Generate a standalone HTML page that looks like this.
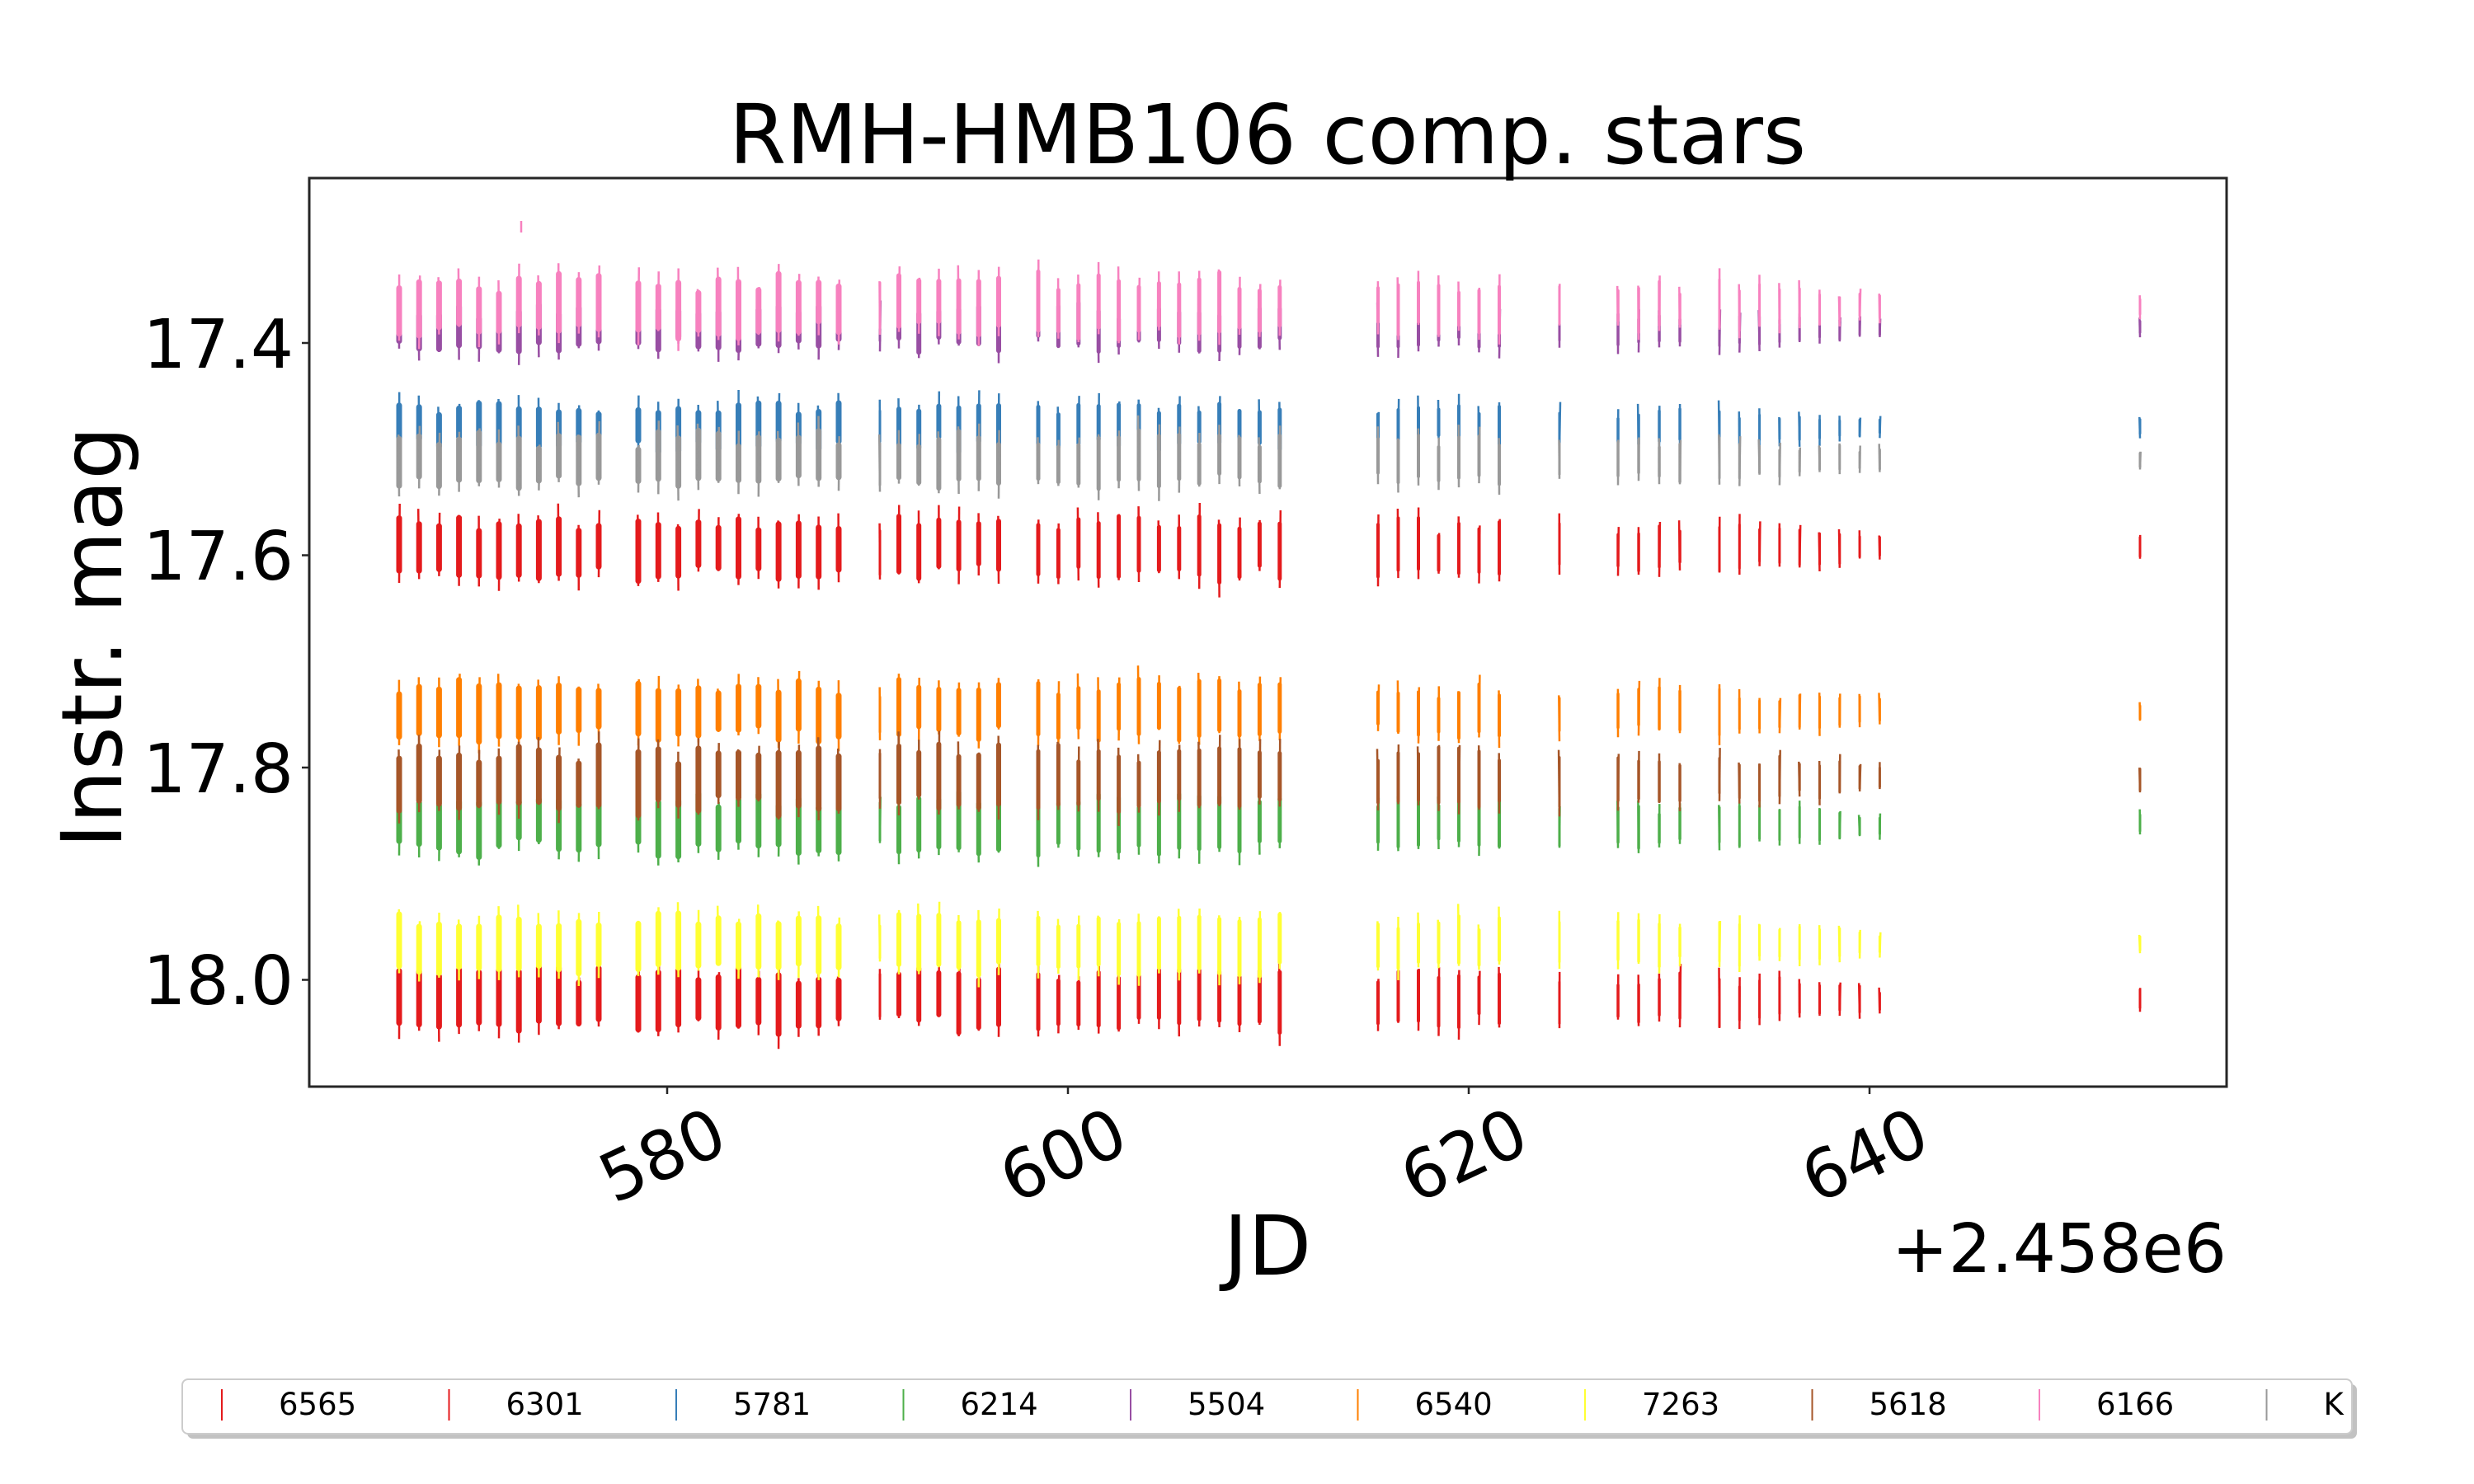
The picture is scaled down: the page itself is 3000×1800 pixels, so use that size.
<!DOCTYPE html>
<html><head><meta charset="utf-8"><style>
html,body{margin:0;padding:0;background:#fff;width:3000px;height:1800px;overflow:hidden}
svg{display:block}
text{font-family:"DejaVu Sans","Liberation Sans",sans-serif;fill:#000}
</style></head><body>
<svg id="s" width="3000" height="1800" viewBox="0 0 3000 1800" xmlns="http://www.w3.org/2000/svg">
<rect width="3000" height="1800" fill="#fff"/>
<g id="data"></g>
<rect x="375" y="216" width="2325" height="1102" fill="none" stroke="#262626" stroke-width="3"/>
<g stroke="#262626" stroke-width="2.5">
<line x1="366" y1="416" x2="375" y2="416"/><line x1="366" y1="673.5" x2="375" y2="673.5"/>
<line x1="366" y1="931" x2="375" y2="931"/><line x1="366" y1="1188.5" x2="375" y2="1188.5"/>
<line x1="809" y1="1318" x2="809" y2="1327"/><line x1="1295" y1="1318" x2="1295" y2="1327"/>
<line x1="1781" y1="1318" x2="1781" y2="1327"/><line x1="2267" y1="1318" x2="2267" y2="1327"/>
</g>
<g font-size="82" text-anchor="end">
<text x="356" y="446">17.4</text><text x="356" y="703">17.6</text>
<text x="356" y="961">17.8</text><text x="356" y="1218">18.0</text>
</g>
<g font-size="82" text-anchor="middle">
<text transform="translate(803,1401) rotate(-25)" y="29">580</text>
<text transform="translate(1289,1401) rotate(-25)" y="29">600</text>
<text transform="translate(1775,1401) rotate(-25)" y="29">620</text>
<text transform="translate(2261,1401) rotate(-25)" y="29">640</text>
</g>
<text x="1537" y="198" font-size="100" text-anchor="middle">RMH-HMB106 comp. stars</text>
<text x="1537" y="1546" font-size="100" text-anchor="middle">JD</text>
<text x="2700" y="1543" font-size="82" text-anchor="end">+2.458e6</text>
<text transform="translate(147,773) rotate(-90)" font-size="102" text-anchor="middle">Instr. mag</text>
<rect x="227" y="1679" width="2631" height="66" rx="7" fill="#999" opacity="0.6"/>
<rect x="221" y="1673" width="2631" height="66" rx="7" fill="#fff" stroke="#ccc" stroke-width="2"/>
<g id="leg" font-size="37"></g>
</svg>
<script>
(function(){
var NS="http://www.w3.org/2000/svg";
var seed=12345;function r(){seed=(seed*1103515245+12345)%2147483648;return seed/2147483648;}
var names=["6565","6301","5781","6214","5504","6540","7263","5618","6166","K"];
var cols=["#e41a1c","#e41a1c","#377eb8","#4daf4a","#984ea3","#ff7f00","#ffff33","#a65628","#f781bf","#999999"];
var ys=[1212,665,518,1000,398,862,1145,945,372,558];
var hs=[66,66,50,62,46,62,62,70,64,56];
var leg=document.getElementById("leg");
for(var i=0;i<10;i++){
 var l=document.createElementNS(NS,"line");var mx=269+i*275.5;
 l.setAttribute("x1",mx);l.setAttribute("x2",mx);l.setAttribute("y1",1685);l.setAttribute("y2",1723);
 l.setAttribute("stroke",cols[i]);l.setAttribute("stroke-width",2);leg.appendChild(l);
 var t=document.createElementNS(NS,"text");t.setAttribute("x",338+i*275.5);t.setAttribute("y",1716);
 t.textContent=names[i];leg.appendChild(t);
}
var nights=[];
var k;
for(k=0;k<11;k++)nights.push([484+k*24.2,7,1]);
for(k=0;k<11;k++)nights.push([774+k*24.3,7,1]);
nights.push([1067,3,0.8]);
for(k=0;k<6;k++)nights.push([1090+k*24.2,6,1]);
for(k=0;k<13;k++)nights.push([1259+k*24.4,5,1]);
for(k=0;k<7;k++)nights.push([1671+k*24.5,4,0.85]);
nights.push([1891,3,0.8]);
for(k=0;k<4;k++)nights.push([1962+k*25,3.5,0.75]);
for(k=0;k<9;k++)nights.push([2085+k*24.3,3,0.8-k*0.05]);
nights.push([2595,3,0.35]);
var g=document.getElementById("data");var out="";
for(var n=0;n<nights.length;n++){
 var x=nights[n][0],w=nights[n][1],sc=nights[n][2];
 for(var s=0;s<10;s++){
  var h=hs[s]*sc*(0.8+0.4*r());
  var cy=ys[s]+(r()-0.5)*14*sc;
  out+='<rect x="'+(x-w/2).toFixed(1)+'" y="'+(cy-h/2).toFixed(1)+'" width="'+w+'" height="'+h.toFixed(1)+'" rx="'+(w/2)+'" fill="'+cols[s]+'"/>';
  var e1=r()*16*sc,e2=r()*16*sc;
  out+='<line x1="'+(x+(r()-0.5)*2).toFixed(1)+'" x2="'+x.toFixed(1)+'" y1="'+(cy-h/2-e1).toFixed(1)+'" y2="'+(cy+h/2+e2).toFixed(1)+'" stroke="'+cols[s]+'" stroke-width="2.5"/>';
 }
}
out+='<line x1="632" x2="632" y1="268" y2="282" stroke="#f781bf" stroke-width="2.5"/>';
g.innerHTML=out;
})();
</script>
</body></html>
